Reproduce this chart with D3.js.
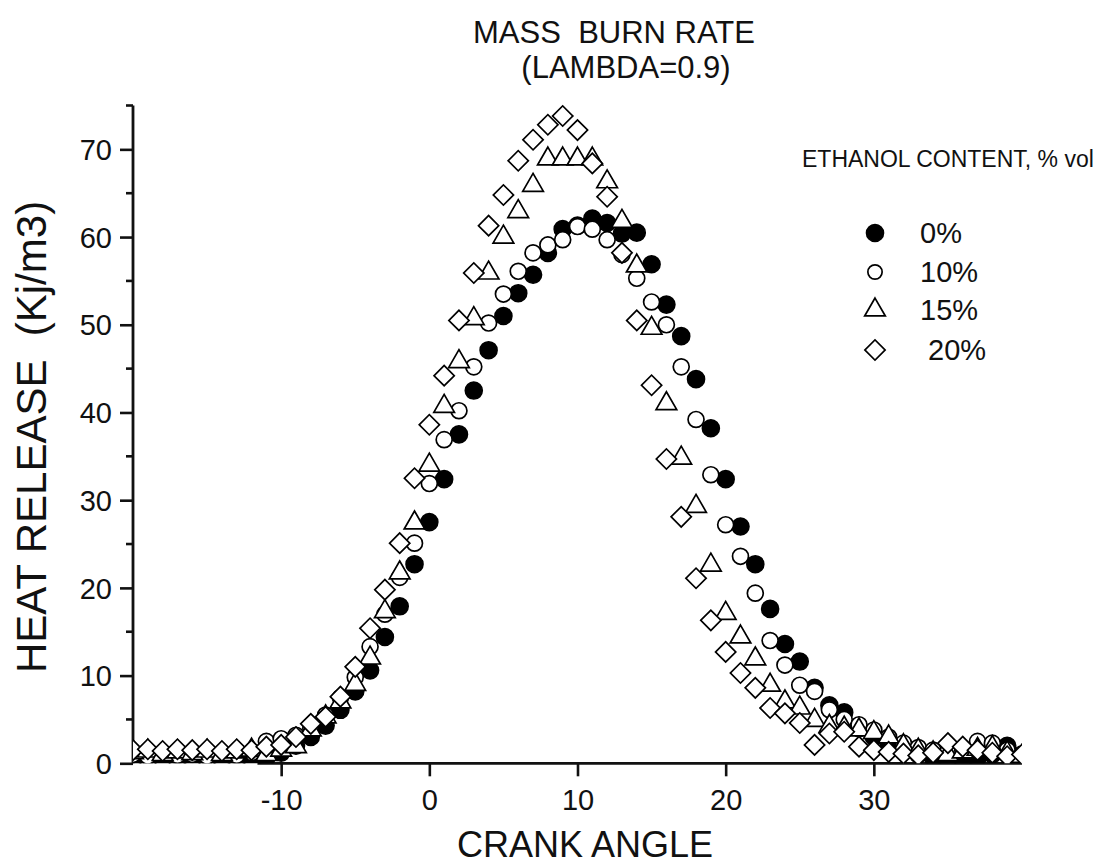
<!DOCTYPE html>
<html>
<head>
<meta charset="utf-8">
<script src="https://cdn.jsdelivr.net/npm/d3@7/dist/d3.min.js"></script>
<style>
  body { margin: 0; background: #fff; }
  text { font-family: "Liberation Sans", Arial, sans-serif; fill: #111; white-space: pre; }
</style>
</head>
<body>
<script>
// crank angle, degrees
const crankAngle = [-20, -19, -18, -17, -16, -15, -14, -13, -12, -11, -10, -9, -8, -7, -6, -5, -4, -3, -2, -1,
  0, 1, 2, 3, 4, 5, 6, 7, 8, 9, 10, 11, 12, 13, 14, 15, 16, 17, 18, 19,
  20, 21, 22, 23, 24, 25, 26, 27, 28, 29, 30, 31, 32, 33, 34, 35, 36, 37, 38, 39, 40];

// heat release, Kj/m3, one value per crank angle
const eth0 = [0.3, 0.2, 0.4, 0.2, 0.3, 0.2, 0.3, 0.2, 0.3, 0.6, 1.2, 2.0, 3.0, 4.3, 6.1, 8.2, 10.6, 14.4, 17.9, 22.7,
  27.5, 32.4, 37.5, 42.5, 47.1, 51.0, 53.6, 55.7, 58.2, 60.9, 61.3, 62.1, 61.6, 60.4, 60.5, 56.9, 52.3, 48.7, 43.8, 38.2,
  32.4, 27.0, 22.7, 17.6, 13.6, 11.6, 8.6, 6.6, 5.8, 4.0, 3.0, 2.2, 1.5, 1.0, 0.6, 0.4, 0.4, 0.6, 1.0, 2.0, 1.0];
const eth10 = [1.0, 0.8, 1.1, 0.9, 1.0, 0.8, 1.1, 0.9, 1.2, 2.5, 2.8, 3.2, 4.0, 5.5, 7.5, 9.8, 13.3, 17.0, 21.2, 25.1,
  31.9, 36.9, 40.2, 45.2, 50.2, 53.5, 56.1, 58.2, 59.1, 59.7, 61.2, 60.9, 59.7, 58.0, 55.3, 52.6, 50.0, 45.2, 39.2, 32.9,
  27.2, 23.6, 19.4, 14.0, 11.2, 8.9, 8.2, 6.1, 5.0, 4.4, 3.8, 3.0, 2.3, 1.8, 1.5, 1.3, 1.5, 2.5, 2.3, 1.5, 1.0];
const eth15 = [1.2, 1.4, 1.0, 1.3, 1.1, 1.4, 1.0, 1.3, 1.5, 1.0, 1.5, 1.9, 3.8, 5.3, 7.0, 9.0, 12.0, 17.3, 21.7, 27.4,
  34.0, 40.7, 45.8, 50.7, 55.9, 60.0, 62.9, 65.9, 68.9, 68.9, 68.9, 68.9, 66.3, 61.8, 56.7, 49.6, 41.0, 34.8, 29.3, 22.6,
  17.1, 14.4, 11.9, 8.9, 7.0, 6.3, 4.9, 4.2, 4.0, 3.8, 3.5, 3.0, 2.0, 1.5, 1.2, 1.0, 1.3, 1.6, 1.8, 1.2, 0.8];
const eth20 = [1.5, 1.6, 1.4, 1.6, 1.5, 1.6, 1.4, 1.6, 1.5, 1.9, 2.1, 3.0, 4.5, 5.3, 7.6, 11.0, 15.4, 19.8, 25.1, 32.5,
  38.6, 44.2, 50.5, 55.9, 61.3, 64.8, 68.7, 71.1, 72.8, 73.8, 72.2, 68.4, 64.6, 58.2, 50.5, 43.1, 34.7, 28.1, 21.1, 16.3,
  12.7, 10.3, 8.6, 6.3, 5.7, 4.6, 2.1, 3.4, 3.6, 1.9, 1.5, 1.3, 1.1, 0.9, 1.2, 2.3, 1.9, 1.5, 1.2, 0.8, 1.0];

const seriesLabels = ["0%", "10%", "15%", " 20%"];
const xTicks = [-10, 0, 10, 20, 30];
const yTicks = [0, 10, 20, 30, 40, 50, 60, 70];
const yMinorTicks = [5, 15, 25, 35, 45, 55, 65, 75];

const width = 1106;
const height = 866;

const svg = d3.select("body")
  .append("svg")
  .attr("width", width)
  .attr("height", height);

const plot = {left: 133, right: 1022, top: 105.5, bottom: 763.3};

const xScale = d3.scaleLinear().domain([-20, 40]).range([plot.left, plot.right]);
const yScale = d3.scaleLinear().domain([0, 75]).range([plot.bottom, plot.top]);

// marker shapes: filled circle, open circle, open triangle, open diamond
const markers = [
  {type: d3.symbolCircle, size: 225, fill: "#000", rotate: 0},
  {type: d3.symbolCircle, size: 200, fill: "#fff", rotate: 0},
  {type: d3.symbolTriangle, size: 185, fill: "#fff", rotate: 0},
  {type: d3.symbolSquare, size: 205, fill: "#fff", rotate: 45}
];
const seriesValues = [eth0, eth10, eth15, eth20];

svg.append("defs").append("clipPath")
  .attr("id", "plot-clip")
  .append("rect")
  .attr("x", plot.left)
  .attr("y", plot.top - 20)
  .attr("width", plot.right - plot.left)
  .attr("height", plot.bottom - plot.top + 20);

// axes
const yAxis = d3.axisLeft(yScale).tickValues(yTicks).tickSize(13).tickPadding(8)
  .tickFormat(d => String(d));
const yAxisG = svg.append("g")
  .attr("transform", "translate(" + plot.left + ",0)")
  .call(yAxis);
yAxisG.select(".domain").remove();
yAxisG.selectAll(".tick line").attr("stroke", "#111").attr("stroke-width", 2.6);
yAxisG.selectAll(".tick text").style("font-size", "29px").attr("dy", "0.35em");

svg.append("g")
  .selectAll("line")
  .data(yMinorTicks)
  .join("line")
  .attr("x1", plot.left - 7)
  .attr("x2", plot.left)
  .attr("y1", d => yScale(d))
  .attr("y2", d => yScale(d))
  .attr("stroke", "#111")
  .attr("stroke-width", 2.6);

svg.append("line")
  .attr("x1", plot.left).attr("x2", plot.left)
  .attr("y1", yScale(75)).attr("y2", yScale(0))
  .attr("stroke", "#111").attr("stroke-width", 2.8);

const xAxis = d3.axisBottom(xScale).tickValues(xTicks).tickSize(13).tickPadding(13)
  .tickFormat(d => String(d));
const xAxisG = svg.append("g")
  .attr("transform", "translate(0," + plot.bottom + ")")
  .call(xAxis);
xAxisG.select(".domain").remove();
xAxisG.selectAll(".tick line").attr("stroke", "#111").attr("stroke-width", 2.6);
xAxisG.selectAll(".tick text").style("font-size", "29px");

svg.append("line")
  .attr("x1", xScale(-11.6)).attr("x2", xScale(40))
  .attr("y1", plot.bottom).attr("y2", plot.bottom)
  .attr("stroke", "#111").attr("stroke-width", 2.8);

// data points
const pointsG = svg.append("g").attr("clip-path", "url(#plot-clip)");
seriesValues.forEach((values, i) => {
  const m = markers[i];
  const sym = d3.symbol().type(m.type).size(m.size);
  pointsG.append("g")
    .selectAll("path")
    .data(crankAngle.map((a, j) => ({a: a, v: values[j]})))
    .join("path")
    .attr("transform", d => "translate(" + xScale(d.a) + "," + yScale(d.v) + ") rotate(" + m.rotate + ")")
    .attr("d", sym)
    .attr("fill", m.fill)
    .attr("stroke", "#000")
    .attr("stroke-width", 1.7);
});

// titles
svg.append("text")
  .attr("x", 614).attr("y", 43)
  .style("text-anchor", "middle").style("font-size", "31px")
  .text("MASS  BURN RATE");
svg.append("text")
  .attr("x", 626).attr("y", 78)
  .style("text-anchor", "middle").style("font-size", "31px")
  .text("(LAMBDA=0.9)");

svg.append("text")
  .attr("x", 585).attr("y", 857)
  .style("text-anchor", "middle").style("font-size", "36px")
  .text("CRANK ANGLE");

svg.append("text")
  .attr("transform", "translate(46,437) rotate(-90)")
  .style("text-anchor", "middle").style("font-size", "42px")
  .text("HEAT RELEASE  (Kj/m3)");

// legend
svg.append("text")
  .attr("x", 802).attr("y", 167)
  .style("font-size", "23px")
  .text("ETHANOL CONTENT, % vol");

const legendRows = [233, 272, 310, 350];
seriesLabels.forEach((label, i) => {
  const m = markers[i];
  svg.append("path")
    .attr("transform", "translate(875," + legendRows[i] + ") rotate(" + m.rotate + ")")
    .attr("d", d3.symbol().type(m.type).size(m.size * (i === 1 ? 0.8 : 1))())
    .attr("fill", m.fill)
    .attr("stroke", "#000")
    .attr("stroke-width", 1.7);
  svg.append("text")
    .attr("x", 920).attr("y", legendRows[i] + 10)
    .style("font-size", "29px")
    .text(label);
});
</script>
</body>
</html>
